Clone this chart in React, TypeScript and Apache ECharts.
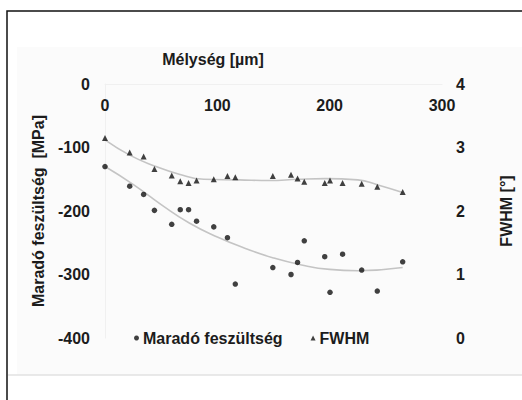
import React, { useEffect, useRef } from "react";
import * as echarts from "echarts";

const depth = [0, 22, 34.4, 44, 59.4, 67, 74.4, 81.5, 96.8, 109, 116, 149.4, 165.6, 171.4, 177.4, 195.6, 200.3, 211.5, 228.5, 242.4, 265];
const stress = [-130, -161, -174, -199, -221, -198, -198, -216, -225, -242, -315, -289, -300, -281, -247, -272, -328, -268, -293, -326, -280];
const fwhm = [3.15, 2.92, 2.86, 2.66, 2.56, 2.47, 2.44, 2.48, 2.5, 2.55, 2.53, 2.55, 2.57, 2.51, 2.46, 2.44, 2.48, 2.44, 2.43, 2.38, 2.3];

const stressTrendX = [0, 25, 50, 75, 100, 125, 150, 175, 200, 225, 265];
const stressTrendY = [-130, -158, -190, -219, -241, -259, -274, -285, -292, -294, -289];
const fwhmTrendX = [0, 22, 44, 66, 88, 119, 146, 172, 196, 225, 243, 265];
const fwhmTrendY = [3.12, 2.88, 2.71, 2.58, 2.5, 2.49, 2.48, 2.5, 2.51, 2.49, 2.41, 2.29];

const xTicks = [0, 100, 200, 300];
const leftTicks = [-400, -300, -200, -100, 0];
const rightTicks = [0, 1, 2, 3, 4];

const seriesNames = ["Maradó feszültség", "FWHM"];
const xName = "Mélység [µm]";
const leftName = "Maradó feszültség  [MPa]";
const rightName = "FWHM [°]";

const FONT = "Liberation Sans, Arial, sans-serif";
const TXT = "#1c1c1c";

export default function App() {
  const ref = useRef<HTMLDivElement>(null);
  useEffect(() => {
    if (!ref.current) return;
    const chart = echarts.init(ref.current, undefined, { renderer: "svg" });
    const labelStyle = { color: TXT, fontSize: 16, fontWeight: "bold" as const, fontFamily: FONT };
    chart.setOption({
      animation: false,
      backgroundColor: "#ffffff",
      textStyle: { fontFamily: FONT },
      graphic: [
        { type: "rect", z: -10, shape: { x: 17, y: 47, width: 505, height: 328 }, style: { fill: "#fbfbfb" } },
        { type: "rect", z: 100, shape: { x: 7, y: 11, width: 530, height: 400 }, style: { fill: "none", stroke: "#111", lineWidth: 1.5 } },
        { type: "line", z: 100, shape: { x1: 8, y1: 375, x2: 522, y2: 375 }, style: { stroke: "#e2e2e2", lineWidth: 1.5 } },
        { type: "text", x: 213, y: 59, style: { text: xName, fill: TXT, fontSize: 16, fontWeight: "bold", fontFamily: FONT, align: "center", verticalAlign: "middle" } },
      ],
      grid: { left: 105, right: 77, top: 84, bottom: 62 },
      legend: {
        left: 129,
        top: 325,
        itemWidth: 5,
        itemHeight: 5,
        itemGap: 28,
        data: [
          { name: seriesNames[0], icon: "circle" },
          { name: seriesNames[1], icon: "triangle" },
        ],
        textStyle: { ...labelStyle, padding: [0, 0, 0, -1] },
      },
      xAxis: {
        type: "value",
        position: "top",
        min: xTicks[0],
        max: xTicks[xTicks.length - 1],
        interval: 100,
        axisLine: { show: true, lineStyle: { color: "#f0f0f0" } },
        axisTick: { show: false },
        splitLine: { show: false },
        axisLabel: { ...labelStyle, inside: true, margin: 13 },
      },
      yAxis: [
        {
          type: "value",
          min: leftTicks[0],
          max: leftTicks[leftTicks.length - 1],
          interval: 100,
          name: leftName,
          nameLocation: "middle",
          nameRotate: 90,
          nameGap: 59,
          nameTextStyle: labelStyle,
          axisLine: { show: true, lineStyle: { color: "#f0f0f0" } },
          axisTick: { show: false },
          splitLine: { show: false },
          axisLabel: { ...labelStyle, margin: 15 },
        },
        {
          type: "value",
          position: "right",
          min: rightTicks[0],
          max: rightTicks[rightTicks.length - 1],
          interval: 1,
          name: rightName,
          nameLocation: "middle",
          nameRotate: 90,
          nameGap: 56,
          nameTextStyle: labelStyle,
          axisLine: { show: false },
          axisTick: { show: false },
          splitLine: { show: false },
          axisLabel: { ...labelStyle, margin: 14 },
        },
      ],
      series: [
        {
          name: "stressTrend",
          type: "line",
          yAxisIndex: 0,
          smooth: true,
          showSymbol: false,
          silent: true,
          z: 1,
          lineStyle: { color: "#c4c4c4", width: 1.6 },
          data: stressTrendX.map((x, i) => [x, stressTrendY[i]]),
        },
        {
          name: "fwhmTrend",
          type: "line",
          yAxisIndex: 1,
          smooth: true,
          showSymbol: false,
          silent: true,
          z: 1,
          lineStyle: { color: "#c4c4c4", width: 1.6 },
          data: fwhmTrendX.map((x, i) => [x, fwhmTrendY[i]]),
        },
        {
          name: seriesNames[0],
          type: "scatter",
          yAxisIndex: 0,
          symbol: "circle",
          symbolSize: 5.5,
          z: 3,
          itemStyle: { color: "#111" },
          data: depth.map((x, i) => [x, stress[i]]),
        },
        {
          name: seriesNames[1],
          type: "scatter",
          yAxisIndex: 1,
          symbol: "triangle",
          symbolSize: 6,
          z: 3,
          itemStyle: { color: "#111" },
          data: depth.map((x, i) => [x, fwhm[i]]),
        },
      ],
    });
    return () => chart.dispose();
  }, []);
  return <div ref={ref} style={{ position: "absolute", left: 0, top: 0, width: 522, height: 400 }} />;
}
